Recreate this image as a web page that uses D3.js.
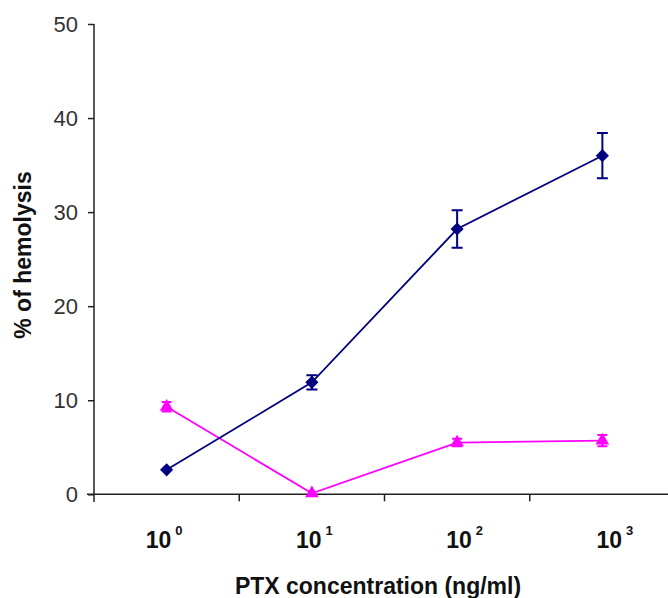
<!DOCTYPE html>
<html lang="en">

<head>
    <meta charset="UTF-8">
    <title>Hemolysis</title>
    <script src="https://unpkg.com/d3@7/dist/d3.min.js"></script>
    <style>
        body { margin: 0; background: #fff; }
        svg { display: block; font-family: "Liberation Sans", Arial, sans-serif; }
    </style>
</head>

<body>
    <div id="chart"></div>

    <script>
        // data
        var categories = ['0', '1', '2', '3'];          // exponents of 10 (ng/ml)
        var ptxValues = [2.6, 11.9, 28.2, 36.0];        // navy diamonds
        var ptxErrors = [0, 0.75, 2.0, 2.4];
        var otherValues = [9.3, 0.1, 5.5, 5.7];         // magenta triangles
        var otherErrors = [0.5, 0, 0.4, 0.6];
        var yTicks = [0, 10, 20, 30, 40, 50];

        var width = 668, height = 598;

        var svg = d3.select('#chart').append('svg')
            .attr('width', width).attr('height', height);

        // plot area (cut off on the right like the original)
        var x = d3.scaleBand().domain(categories).range([94, 675]).padding(0);
        var y = d3.scaleLinear().domain([0, 50]).range([494.3, 24]);
        var cx = function (c) { return x(c) + x.bandwidth() / 2; };

        // y axis
        var yAxis = d3.axisLeft(y).tickValues(yTicks).tickSize(6).tickPadding(10);
        var gy = svg.append('g').attr('transform', 'translate(94,0)').call(yAxis);
        gy.select('.domain').attr('d', 'M0,' + y(50) + 'V502').attr('stroke', '#222').attr('stroke-width', 1.5);
        gy.selectAll('.tick line').attr('stroke', '#222').attr('stroke-width', 1.5);
        gy.selectAll('.tick text').attr('font-size', 22).attr('fill', '#333')
            .attr('font-family', '"Liberation Sans", Arial, sans-serif');

        // x axis line and category boundary ticks
        var gx = svg.append('g');
        gx.append('line')
            .attr('x1', 87).attr('x2', 675)
            .attr('y1', y(0)).attr('y2', y(0))
            .attr('stroke', '#222').attr('stroke-width', 1.5);
        gx.selectAll('.xt').data(categories.slice(1)).enter().append('line')
            .attr('class', 'xt')
            .attr('x1', function (d) { return x(d); }).attr('x2', function (d) { return x(d); })
            .attr('y1', y(0)).attr('y2', y(0) + 7)
            .attr('stroke', '#222').attr('stroke-width', 1.5);

        // tick labels 10^n, slightly spread like the original
        var lbl = gx.selectAll('.xl').data(categories).enter().append('text')
            .attr('class', 'xl')
            .attr('x', function (d, i) { return cx(d) - 21 + i * 5; })
            .attr('y', 548)
            .attr('font-weight', 'bold').attr('font-size', 23).attr('fill', '#111');
        lbl.append('tspan').text('10');
        lbl.append('tspan').text(function (d) { return d; })
            .attr('dx', 4).attr('dy', -13).attr('font-size', 13);

        // axis titles
        svg.append('text')
            .attr('x', 378).attr('y', 594)
            .attr('text-anchor', 'middle')
            .attr('font-weight', 'bold').attr('font-size', 23).attr('fill', '#111')
            .text('PTX concentration (ng/ml)');
        svg.append('text')
            .attr('transform', 'translate(31,255) rotate(-90)')
            .attr('text-anchor', 'middle')
            .attr('font-weight', 'bold').attr('font-size', 23).attr('fill', '#111')
            .text('% of hemolysis');

        var line = d3.line()
            .x(function (d, i) { return cx(categories[i]); })
            .y(function (d) { return y(d); });

        function drawSeries(values, errors, color, marker, size, capW) {
            var g = svg.append('g');
            g.append('path').datum(values)
                .attr('d', line).attr('fill', 'none')
                .attr('stroke', color).attr('stroke-width', 1.8);

            // error bars
            values.forEach(function (v, i) {
                var e = errors[i];
                if (!e) return;
                var px = cx(categories[i]);
                var p = d3.path();
                p.moveTo(px, y(v + e)); p.lineTo(px, y(v - e));
                p.moveTo(px - capW / 2, y(v + e)); p.lineTo(px + capW / 2, y(v + e));
                p.moveTo(px - capW / 2, y(v - e)); p.lineTo(px + capW / 2, y(v - e));
                g.append('path').attr('d', p.toString())
                    .attr('stroke', color).attr('stroke-width', 2).attr('fill', 'none');
            });

            g.selectAll('.m').data(values).enter().append('path')
                .attr('class', 'm')
                .attr('d', d3.symbol().type(marker).size(size))
                .attr('transform', function (d, i) {
                    return 'translate(' + cx(categories[i]) + ',' + y(d) + ')';
                })
                .attr('fill', color);
        }

        drawSeries(otherValues, otherErrors, '#ff00ff', d3.symbolTriangle, 80, 10);
        drawSeries(ptxValues, ptxErrors, '#000080', d3.symbolDiamond2 || d3.symbolDiamond, 110, 11);
    </script>
</body>

</html>
